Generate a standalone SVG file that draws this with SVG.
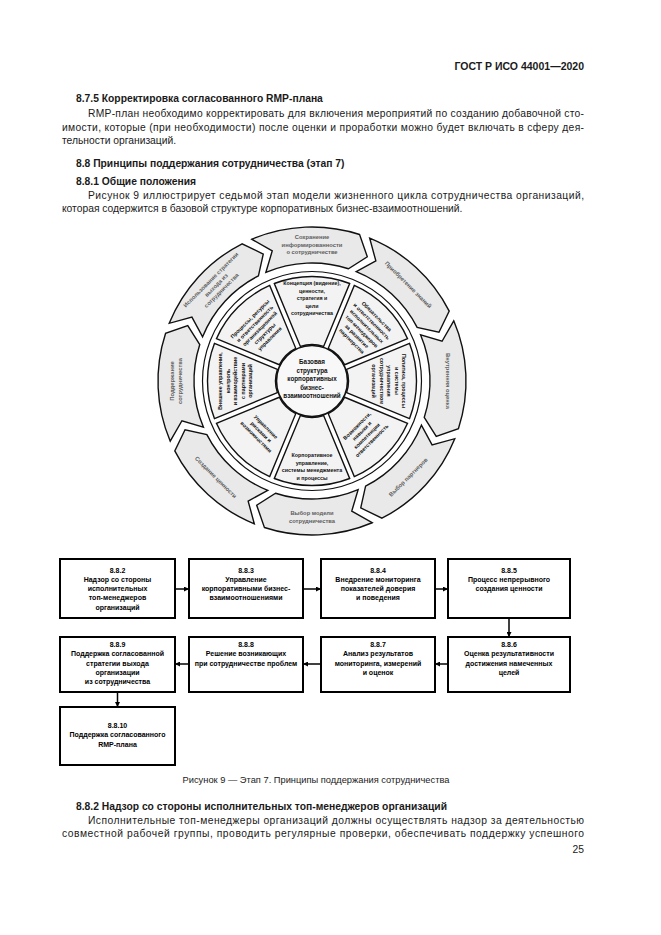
<svg xmlns="http://www.w3.org/2000/svg" width="661" height="935" viewBox="0 0 661 935">
<style>
.pg{font-family:"Liberation Sans",Arial,sans-serif;font-size:10.3px;fill:#1a1a1a}
.b{font-weight:bold}
.arr{fill:#e9e9e9;stroke:#111;stroke-width:1.4}
.seg{fill:#f3f3f3;stroke:#111;stroke-width:1.4}
.ot{font-family:"Liberation Sans",Arial,sans-serif;font-weight:bold;font-size:5.8px;fill:#5e5e5e;text-anchor:middle}
.it{font-family:"Liberation Sans",Arial,sans-serif;font-weight:bold;font-size:5.3px;fill:#111;text-anchor:middle}
.ct{font-family:"Liberation Sans",Arial,sans-serif;font-weight:bold;font-size:6.3px;fill:#111;text-anchor:middle}
.box{fill:#fff;stroke:#000;stroke-width:2}
.bt{font-family:"Liberation Sans",Arial,sans-serif;font-weight:bold;font-size:7px;fill:#000;text-anchor:middle}
.conn line{stroke:#000;stroke-width:1.5;marker-end:url(#ah)}
</style>
<defs>
<path id="arr" d="M -60.17,-141.76 A 154 154 0 0 1 47.59,-146.47 L 55.31,-124.24 L 36.46,-112.23 A 118 118 0 0 0 -46.10,-108.62 L -39.77,-130.06 Z"/>
<path id="seg" d="M -37.67,-97.48 A 104.5 104.5 0 0 1 37.67,-97.48 L 11.63,-34.60 A 36.5 36.5 0 0 0 -11.63,-34.60 Z"/>
<marker id="ah" viewBox="0 0 6 6" refX="6" refY="3" markerWidth="5" markerHeight="5" markerUnits="userSpaceOnUse" orient="auto"><path d="M0,0 L6,3 L0,6 Z" fill="#000"/></marker>
</defs>
<rect width="661" height="935" fill="#fff"/>

<g id="page-text" class="pg">
<text class="b" x="584" y="70" text-anchor="end" font-size="10.5">ГОСТ Р ИСО 44001—2020</text>
<text class="b" x="76" y="102">8.7.5 Корректировка согласованного RMP-плана</text>
<text x="88" y="117" textLength="496" lengthAdjust="spacing">RMP-план необходимо корректировать для включения мероприятий по созданию добавочной сто-</text>
<text x="62" y="131" textLength="522" lengthAdjust="spacing">имости, которые (при необходимости) после оценки и проработки можно будет включать в сферу дея-</text>
<text x="62" y="144">тельности организаций.</text>
<text class="b" x="76" y="167">8.8 Принципы поддержания сотрудничества (этап 7)</text>
<text class="b" x="76" y="185">8.8.1 Общие положения</text>
<text x="88" y="199" textLength="496" lengthAdjust="spacing">Рисунок 9 иллюстрирует седьмой этап модели жизненного цикла сотрудничества организаций,</text>
<text x="62" y="212">которая содержится в базовой структуре корпоративных бизнес-взаимоотношений.</text>
<text x="316" y="783" text-anchor="middle" font-size="9.3">Рисунок 9 — Этап 7. Принципы поддержания сотрудничества</text>
<text class="b" x="76" y="809.5">8.8.2 Надзор со стороны исполнительных топ-менеджеров организаций</text>
<text x="88" y="823.5" textLength="496" lengthAdjust="spacing">Исполнительные топ-менеджеры организаций должны осуществлять надзор за деятельностью</text>
<text x="62" y="837" textLength="522" lengthAdjust="spacing">совместной рабочей группы, проводить регулярные проверки, обеспечивать поддержку успешного</text>
<text x="584" y="853" text-anchor="end">25</text>
</g>

<g id="wheel">
<circle id="inner-disc" cx="312" cy="381" r="109.5" fill="#fff" stroke="#111" stroke-width="1.2"/>

<g id="stage-1">
<use href="#arr" class="arr" transform="translate(312,381)"/>
<text class="ot"><tspan x="312" y="239">Сохранение</tspan><tspan x="312" y="246.5">информированности</tspan><tspan x="312" y="254">о сотрудничестве</tspan></text>
</g>
<g id="stage-2">
<use href="#arr" class="arr" transform="translate(312,381) rotate(45)"/>
<text class="ot" transform="translate(408.2,284.8) rotate(45)" x="0" y="2">Приобретение знаний</text>
</g>
<g id="stage-3">
<use href="#arr" class="arr" transform="translate(312,381) rotate(90)"/>
<text class="ot" transform="translate(448,381) rotate(90)" x="0" y="2">Внутренняя оценка</text>
</g>
<g id="stage-4">
<use href="#arr" class="arr" transform="translate(312,381) rotate(135)"/>
<text class="ot" transform="translate(408.2,477.2) rotate(-45)" x="0" y="2">Выбор партнеров</text>
</g>
<g id="stage-5">
<use href="#arr" class="arr" transform="translate(312,381) rotate(180)"/>
<text class="ot"><tspan x="312" y="514.5">Выбор модели</tspan><tspan x="312" y="522.5">сотрудничества</tspan></text>
</g>
<g id="stage-6">
<use href="#arr" class="arr" transform="translate(312,381) rotate(225)"/>
<text class="ot" transform="translate(215.8,477.2) rotate(45)" x="0" y="2">Создание ценности</text>
</g>
<g id="stage-7">
<use href="#arr" class="arr" transform="translate(312,381) rotate(270)"/>
<text class="ot" transform="translate(176,381) rotate(-90)"><tspan x="0" y="-2">Поддержание</tspan><tspan x="0" y="6">сотрудничества</tspan></text>
</g>
<g id="stage-8">
<use href="#arr" class="arr" transform="translate(312,381) rotate(315)"/>
<text class="ot" transform="translate(215.8,284.8) rotate(-45)"><tspan x="0" y="-5">Использование стратегии</tspan><tspan x="0" y="2.5">выхода из</tspan><tspan x="0" y="10">сотрудничества</tspan></text>
</g>

<g id="seg-top">
<use href="#seg" class="seg" transform="translate(312,381)"/>
<text class="it"><tspan x="312" y="285">Концепция (видение),</tspan><tspan x="312" y="292.5">ценности,</tspan><tspan x="312" y="300">стратегия и</tspan><tspan x="312" y="307.5">цели</tspan><tspan x="312" y="315">сотрудничества</tspan></text>
</g>
<g id="seg-top-right">
<use href="#seg" class="seg" transform="translate(312,381) rotate(45)"/>
<text class="it" transform="translate(364.3,328.7) rotate(45)"><tspan x="0" y="-15.5">Обязательства</tspan><tspan x="0" y="-8.5">и ответственность</tspan><tspan x="0" y="-1.5">исполнительных</tspan><tspan x="0" y="5.5">топ-менеджеров</tspan><tspan x="0" y="12.5">за развитие</tspan><tspan x="0" y="19.5">партнерства</tspan></text>
</g>
<g id="seg-right">
<use href="#seg" class="seg" transform="translate(312,381) rotate(90)"/>
<text class="it" transform="translate(390,381) rotate(90)"><tspan x="0" y="-12">Политика, процессы</tspan><tspan x="0" y="-4.5">и системы</tspan><tspan x="0" y="3">управления</tspan><tspan x="0" y="10.5">сотрудничеством</tspan><tspan x="0" y="18">организаций</tspan></text>
</g>
<g id="seg-bottom-right">
<use href="#seg" class="seg" transform="translate(312,381) rotate(135)"/>
<text class="it" transform="translate(364.3,433.3) rotate(-45)"><tspan x="0" y="-8.5">Возможности,</tspan><tspan x="0" y="-1.5">навыки и</tspan><tspan x="0" y="5.5">компетенции</tspan><tspan x="0" y="12.5">ответственность</tspan></text>
</g>
<g id="seg-bottom">
<use href="#seg" class="seg" transform="translate(312,381) rotate(180)"/>
<text class="it"><tspan x="312" y="457">Корпоративное</tspan><tspan x="312" y="464.5">управление,</tspan><tspan x="312" y="472">системы менеджмента</tspan><tspan x="312" y="479.5">и процессы</tspan></text>
</g>
<g id="seg-bottom-left">
<use href="#seg" class="seg" transform="translate(312,381) rotate(225)"/>
<text class="it" transform="translate(261.1,431.9) rotate(45)"><tspan x="0" y="-5">Управление</tspan><tspan x="0" y="2">рисками и</tspan><tspan x="0" y="9">возможностями</tspan></text>
</g>
<g id="seg-left">
<use href="#seg" class="seg" transform="translate(312,381) rotate(270)"/>
<text class="it" transform="translate(234,381) rotate(-90)"><tspan x="0" y="-12">Внешнее управление,</tspan><tspan x="0" y="-4.5">контроль</tspan><tspan x="0" y="3">и взаимодействие</tspan><tspan x="0" y="10.5">с партнерами</tspan><tspan x="0" y="18">организаций</tspan></text>
</g>
<g id="seg-top-left">
<use href="#seg" class="seg" transform="translate(312,381) rotate(315)"/>
<text class="it" transform="translate(259.7,328.7) rotate(-45)"><tspan x="0" y="-12">Процессы, ресурсы</tspan><tspan x="0" y="-5">и ответственность</tspan><tspan x="0" y="2">организационной</tspan><tspan x="0" y="9">структуры</tspan><tspan x="0" y="16">управления</tspan></text>
</g>

<g id="core">
<circle cx="312" cy="381" r="35.5" fill="#f8f8f8" stroke="#111" stroke-width="1.6"/>
<text class="ct"><tspan x="312" y="364">Базовая</tspan><tspan x="312" y="372.5">структура</tspan><tspan x="312" y="381">корпоративных</tspan><tspan x="312" y="389.5">бизнес-</tspan><tspan x="312" y="398">взаимоотношений</tspan></text>
</g>
</g>

<g id="n882">
<rect class="box" x="60" y="559" width="115" height="59"/>
<text class="bt"><tspan x="117.5" y="572.5">8.8.2</tspan><tspan x="117.5" y="581.8">Надзор со стороны</tspan><tspan x="117.5" y="591">исполнительных</tspan><tspan x="117.5" y="600.2">топ-менеджеров</tspan><tspan x="117.5" y="609.5">организаций</tspan></text>
</g>
<g id="n883">
<rect class="box" x="189" y="559" width="114" height="59"/>
<text class="bt"><tspan x="246" y="572.5">8.8.3</tspan><tspan x="246" y="581.8">Управление</tspan><tspan x="246" y="591">корпоративными бизнес-</tspan><tspan x="246" y="600.2">взаимоотношениями</tspan></text>
</g>
<g id="n884">
<rect class="box" x="321" y="559" width="114" height="59"/>
<text class="bt"><tspan x="378" y="572.5">8.8.4</tspan><tspan x="378" y="581.8">Внедрение мониторинга</tspan><tspan x="378" y="591">показателей доверия</tspan><tspan x="378" y="600.2">и поведения</tspan></text>
</g>
<g id="n885">
<rect class="box" x="448" y="559" width="122" height="59"/>
<text class="bt"><tspan x="509" y="572.5">8.8.5</tspan><tspan x="509" y="581.8">Процесс непрерывного</tspan><tspan x="509" y="591">создания ценности</tspan></text>
</g>
<g id="n886">
<rect class="box" x="448" y="637" width="122" height="55"/>
<text class="bt"><tspan x="509" y="647">8.8.6</tspan><tspan x="509" y="656.3">Оценка результативности</tspan><tspan x="509" y="665.5">достижения намеченных</tspan><tspan x="509" y="674.8">целей</tspan></text>
</g>
<g id="n887">
<rect class="box" x="321" y="637" width="114" height="55"/>
<text class="bt"><tspan x="378" y="647">8.8.7</tspan><tspan x="378" y="656.3">Анализ результатов</tspan><tspan x="378" y="665.5">мониторинга, измерений</tspan><tspan x="378" y="674.8">и оценок</tspan></text>
</g>
<g id="n888">
<rect class="box" x="189" y="637" width="114" height="55"/>
<text class="bt"><tspan x="246" y="647">8.8.8</tspan><tspan x="246" y="656.3">Решение возникающих</tspan><tspan x="246" y="665.5">при сотрудничестве проблем</tspan></text>
</g>
<g id="n889">
<rect class="box" x="60" y="637" width="115" height="55"/>
<text class="bt"><tspan x="117.5" y="647">8.8.9</tspan><tspan x="117.5" y="656.3">Поддержка согласованной</tspan><tspan x="117.5" y="665.5">стратегии выхода</tspan><tspan x="117.5" y="674.8">организации</tspan><tspan x="117.5" y="684">из сотрудничества</tspan></text>
</g>
<g id="n8810">
<rect class="box" x="60" y="707" width="115" height="58"/>
<text class="bt"><tspan x="117.5" y="728">8.8.10</tspan><tspan x="117.5" y="737.3">Поддержка согласованного</tspan><tspan x="117.5" y="746.5">RMP-плана</tspan></text>
</g>

<g id="connectors" class="conn">
<line x1="175" y1="589" x2="189" y2="589"/>
<line x1="303" y1="589" x2="321" y2="589"/>
<line x1="435" y1="589" x2="448" y2="589"/>
<line x1="509" y1="618" x2="509" y2="637"/>
<line x1="448" y1="664" x2="435" y2="664"/>
<line x1="321" y1="664" x2="303" y2="664"/>
<line x1="189" y1="664" x2="175" y2="664"/>
<line x1="117.5" y1="692" x2="117.5" y2="707"/>
</g>
</svg>
